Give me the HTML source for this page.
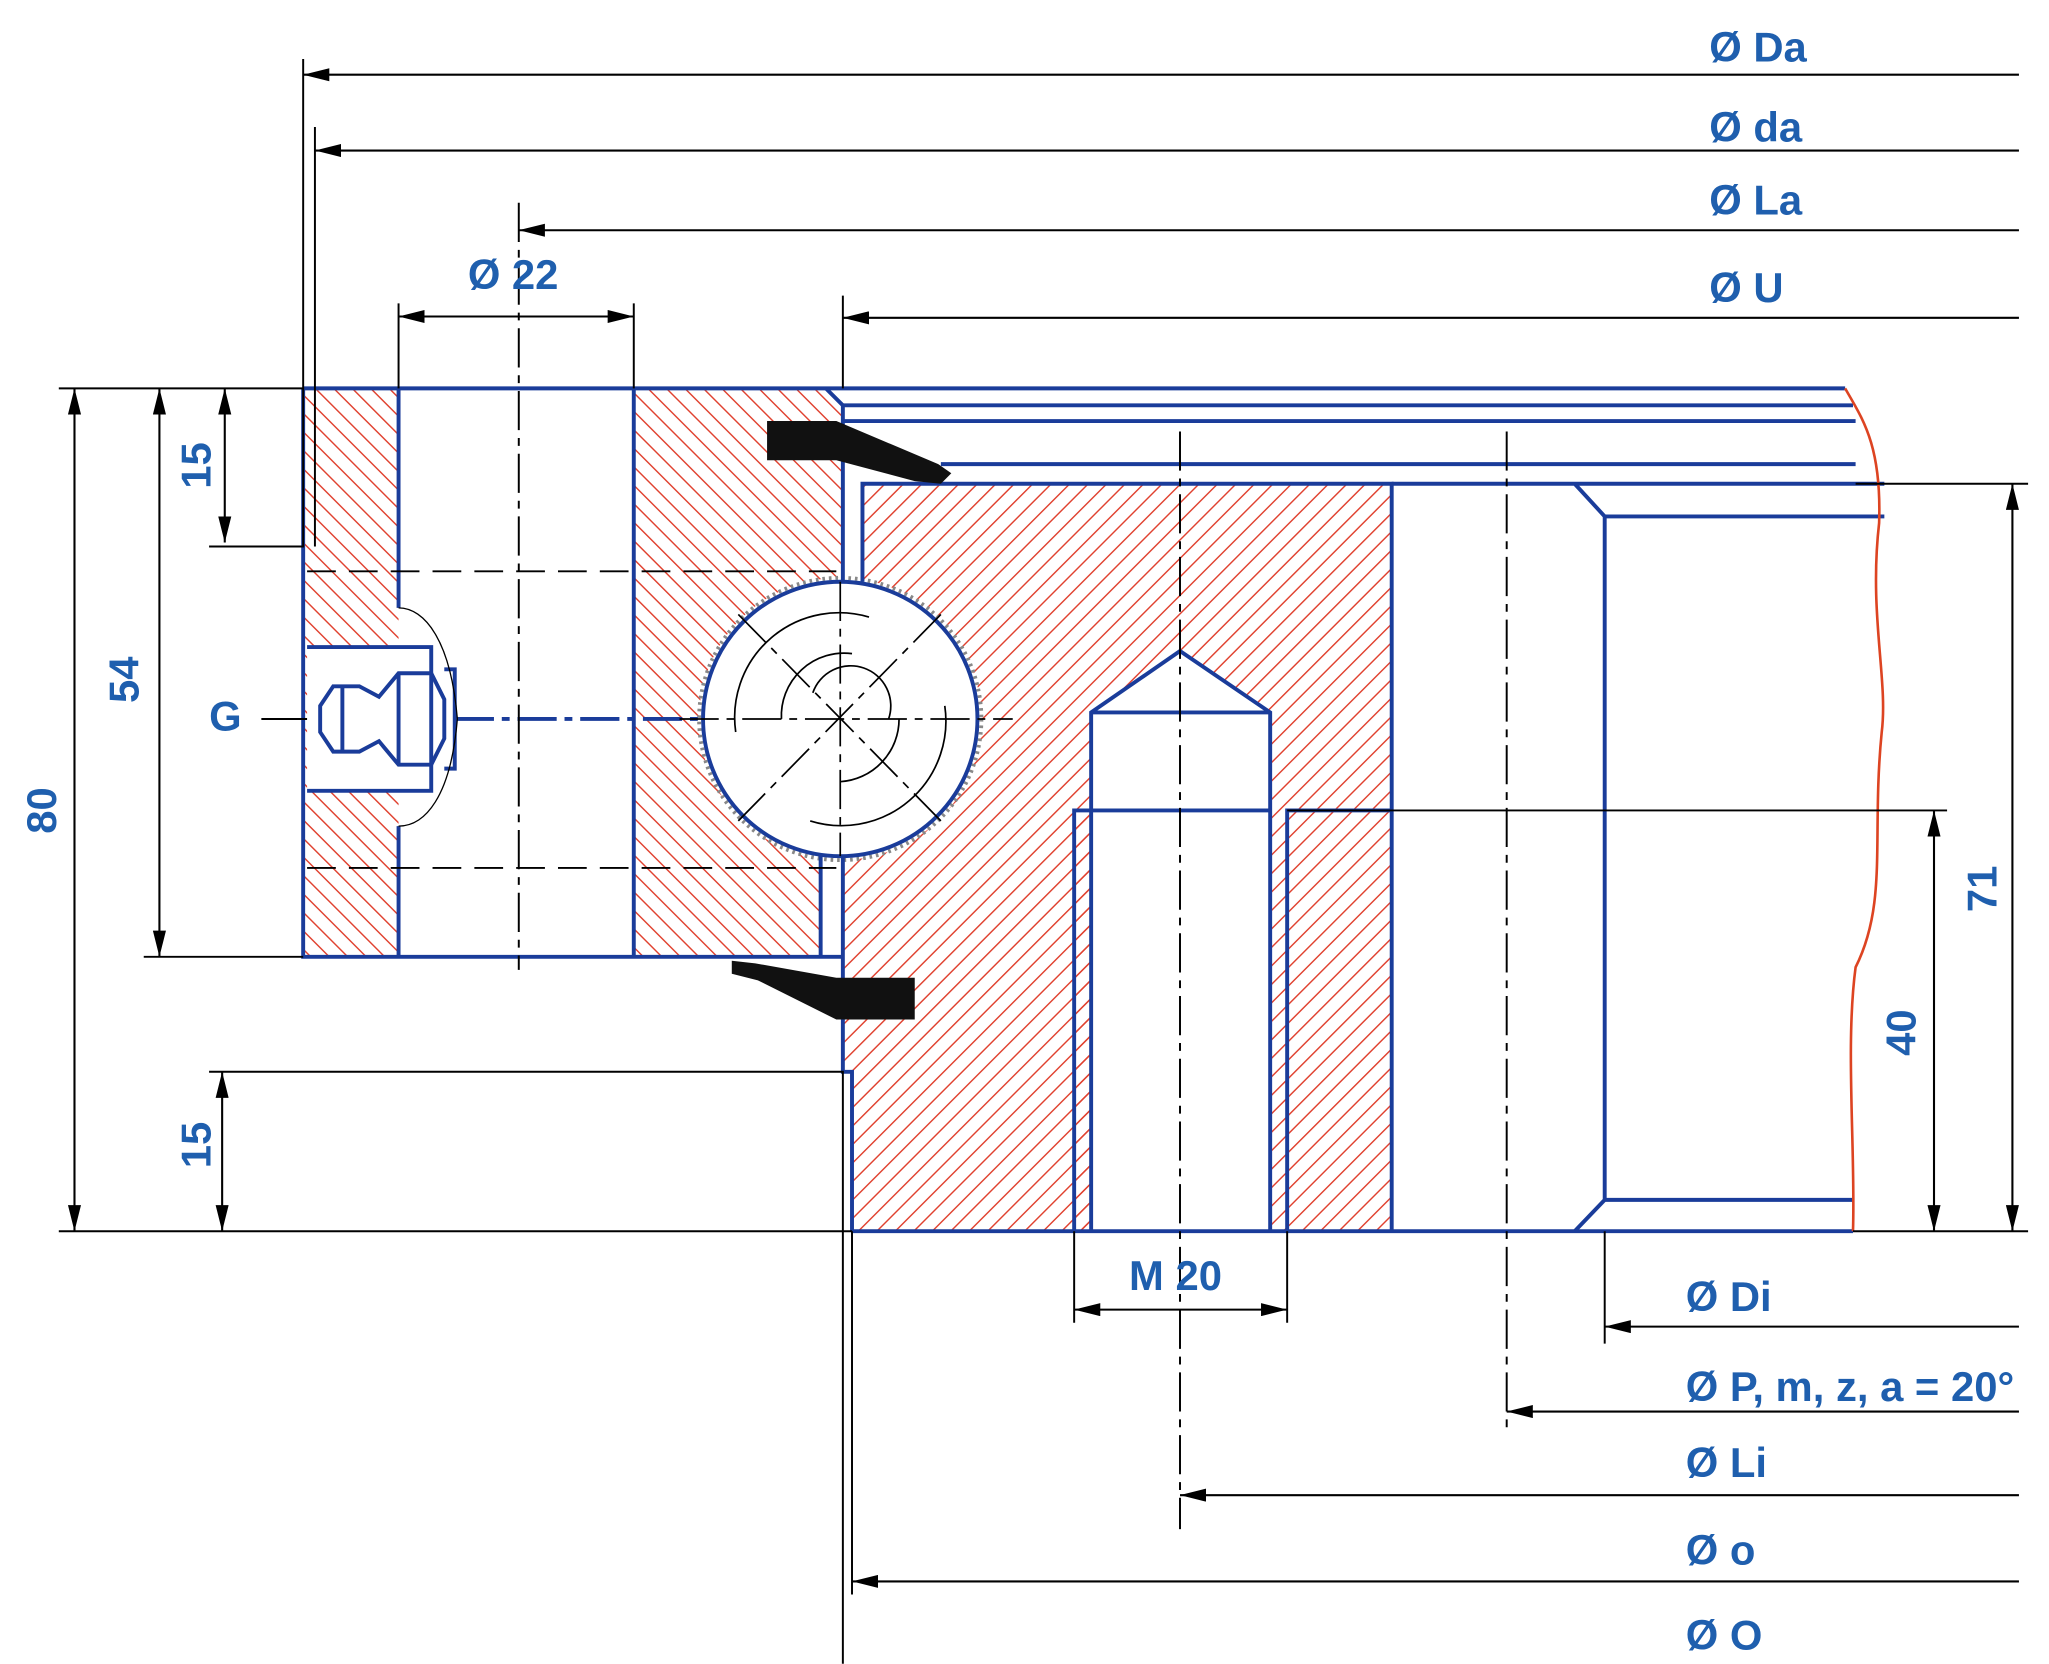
<!DOCTYPE html>
<html><head><meta charset="utf-8"><style>
html,body{margin:0;padding:0;background:#fff;}
svg{display:block;}
text{font-family:"Liberation Sans",sans-serif;font-weight:bold;fill:#1f5fae;}
</style></head><body>
<svg width="2049" height="1664" viewBox="0 0 1568 1273" xmlns="http://www.w3.org/2000/svg">
<defs>
<pattern id="h" patternUnits="userSpaceOnUse" width="10" height="10" patternTransform="rotate(45)">
<line x1="0" y1="0" x2="0" y2="10" stroke="#e0412f" stroke-width="2.2"/>
</pattern>
<pattern id="h2" patternUnits="userSpaceOnUse" width="10" height="10" patternTransform="rotate(-45)">
<line x1="0" y1="0" x2="0" y2="10" stroke="#e0412f" stroke-width="2.2"/>
</pattern>
<marker id="a" viewBox="0 0 20 10" refX="20" refY="5" markerWidth="20" markerHeight="10" markerUnits="userSpaceOnUse" orient="auto-start-reverse">
<path d="M0,0 L20,5 L0,10 Z" fill="#000"/>
</marker>
</defs>
<rect width="1568" height="1273" fill="#fff"/>

<rect x="232" y="297" width="73" height="435" fill="url(#h2)"/>
<path d="M485,297 L632,297 L645,310 L645,645 L628,645 L628,732 L485,732 Z" fill="url(#h2)"/>
<path d="M660,370 L1065,370 L1065,942 L985,942 L985,620 L972,620 L972,545 L903,498 L835,545 L835,942 L652,942 L652,820 L645,820 L645,655 L660,655 Z" fill="url(#h)"/>
<rect x="822" y="620" width="13" height="322" fill="url(#h)"/>
<rect x="972" y="620" width="13" height="322" fill="url(#h)"/>
<rect x="235" y="495" width="95" height="110" fill="#fff"/>
<circle cx="643" cy="550" r="108" fill="#fff" stroke="#888" stroke-width="3" stroke-dasharray="2 3"/>

<g stroke="#1a3c9a" stroke-width="3" fill="none">
<path d="M232,297 L1412,297"/>
<path d="M645,310 L1418,310 M645,322 L1420,322 M720,355 L1420,355"/>
<path d="M232,297 L232,732 L645,732"/>
<path d="M305,297 L305,465 M305,632 L305,732"/>
<path d="M485,297 L485,732"/>
<path d="M632,297 L645,310 L645,445 M645,655 L645,820 L652,820 L652,942"/>
<path d="M628,655 L628,732"/>
<path d="M660,445 L660,370 L1065,370 L1065,942"/>
<path d="M652,942 L1418,942"/>
<path d="M835,942 L835,545 L903,498 L972,545 L972,942 M835,545 L972,545"/>
<path d="M822,942 L822,620 L972,620 M985,942 L985,620 L1065,620"/>
<path d="M1065,370 L1442,370 M1205,370 L1228,395 L1442,395 M1228,395 L1228,918 L1418,918 M1228,918 L1205,942"/>
<path d="M235,495 L330,495 L330,605 L235,605"/>
<circle cx="643" cy="550" r="105"/>
<path d="M245,540 L255,525 L275,525 L290,533 L305,515 L330,515 L340,535 L340,565 L330,585 L305,585 L290,567 L275,575 L255,575 L245,560 Z"/>
<path d="M305,515 L305,585 M262,525 L262,575 M340,512 L348,512 L348,588 L340,588"/>
<path d="M348,550 L540,550" stroke-dasharray="30 6 6 6"/>
</g>
<path d="M305,465 C325,465 345,490 350,550 C345,610 325,632 305,632" stroke="#000" stroke-width="1" fill="none"/>
<path d="M1412,297 C1425,320 1440,340 1438,400 C1430,470 1445,520 1440,560 C1432,640 1445,690 1420,740 C1412,800 1420,880 1418,942" stroke="#d42" stroke-width="2" fill="none"/>

<path d="M587,322 L640,322 L718,355 L728,362 L720,370 L700,368 L640,352 L587,352 Z" fill="#111"/>
<path d="M560,735 L578,737 L640,748 L700,748 L700,780 L640,780 L580,750 L560,745 Z" fill="#111"/>

<g stroke="#000" stroke-width="1.3" fill="none">
<path d="M565,470 L720,628" stroke-dasharray="30 6 6 6"/>
<path d="M720,470 L565,628" stroke-dasharray="30 6 6 6"/>
<path d="M643,445 L643,655" stroke-dasharray="30 6 6 6"/>
<path d="M520,550 L775,550" stroke-dasharray="30 6 6 6"/>
<path d="M563,560 A80,80 0 0 1 665,472"/>
<path d="M598,550 A48,48 0 0 1 652,500"/>
<path d="M622,530 A30,30 0 0 1 680,550"/>
<path d="M723,540 A80,80 0 0 1 620,628"/>
<path d="M688,550 A48,48 0 0 1 643,598"/>
</g>

<g stroke="#000" stroke-width="1.5" fill="none">
<path d="M235,437 L640,437 M235,664 L640,664" stroke-dasharray="22 10"/>
<path d="M397,155 L397,742" stroke-dasharray="30 6 6 6"/>
<path d="M903,330 L903,1170" stroke-dasharray="30 6 6 6"/>
<path d="M1153,330 L1153,1095" stroke-dasharray="30 6 6 6"/>
<path d="M200,550 L235,550"/>
<path d="M232,45 L232,418 L160,418"/>
<path d="M241,97 L241,418"/>
<path d="M645,226 L645,297"/>
<path d="M305,232 L305,297 M485,232 L485,297"/>
<path d="M45,297 L232,297 M45,942 L652,942 M1418,942 L1552,942 M1420,370 L1552,370 M985,620 L1490,620"/>
<path d="M110,732 L232,732 M160,820 L645,820 L645,1273 M652,942 L652,1220"/>
<path d="M822,942 L822,1012 M985,942 L985,1012 M1228,942 L1228,1028"/>
</g>

<g stroke="#000" stroke-width="1.6" fill="none" marker-start="url(#a)">
<path d="M232,57 L1545,57"/>
<path d="M241,115 L1545,115"/>
<path d="M397,176 L1545,176"/>
<path d="M645,243 L1545,243"/>
<path d="M1228,1015 L1545,1015"/>
<path d="M1153,1080 L1545,1080"/>
<path d="M903,1144 L1545,1144"/>
<path d="M652,1210 L1545,1210"/>
</g>
<g stroke="#000" stroke-width="1.6" fill="none" marker-start="url(#a)" marker-end="url(#a)">
<path d="M305,242 L485,242"/>
<path d="M822,1002 L985,1002"/>
<path d="M57,297 L57,942"/>
<path d="M122,297 L122,732"/>
<path d="M172,297 L172,415"/>
<path d="M170,820 L170,942"/>
<path d="M1540,370 L1540,942"/>
<path d="M1480,620 L1480,942"/>
</g>

<g font-size="32">
<text x="1308" y="47">Ø Da</text>
<text x="1308" y="108">Ø da</text>
<text x="1308" y="164">Ø La</text>
<text x="1308" y="231">Ø U</text>
<text x="358" y="221">Ø 22</text>
<text x="160" y="559">G</text>
<text x="864" y="987">M 20</text>
<text x="1290" y="1003">Ø Di</text>
<text x="1290" y="1072">Ø P, m, z, a = 20°</text>
<text x="1290" y="1130">Ø Li</text>
<text x="1290" y="1197">Ø o</text>
<text x="1290" y="1262">Ø O</text>
<text transform="translate(43,620) rotate(-90)" text-anchor="middle">80</text>
<text transform="translate(106,520) rotate(-90)" text-anchor="middle">54</text>
<text transform="translate(161,356) rotate(-90)" text-anchor="middle">15</text>
<text transform="translate(161,876) rotate(-90)" text-anchor="middle">15</text>
<text transform="translate(1528,680) rotate(-90)" text-anchor="middle">71</text>
<text transform="translate(1466,790) rotate(-90)" text-anchor="middle">40</text>
</g>
</svg>
</body></html>
